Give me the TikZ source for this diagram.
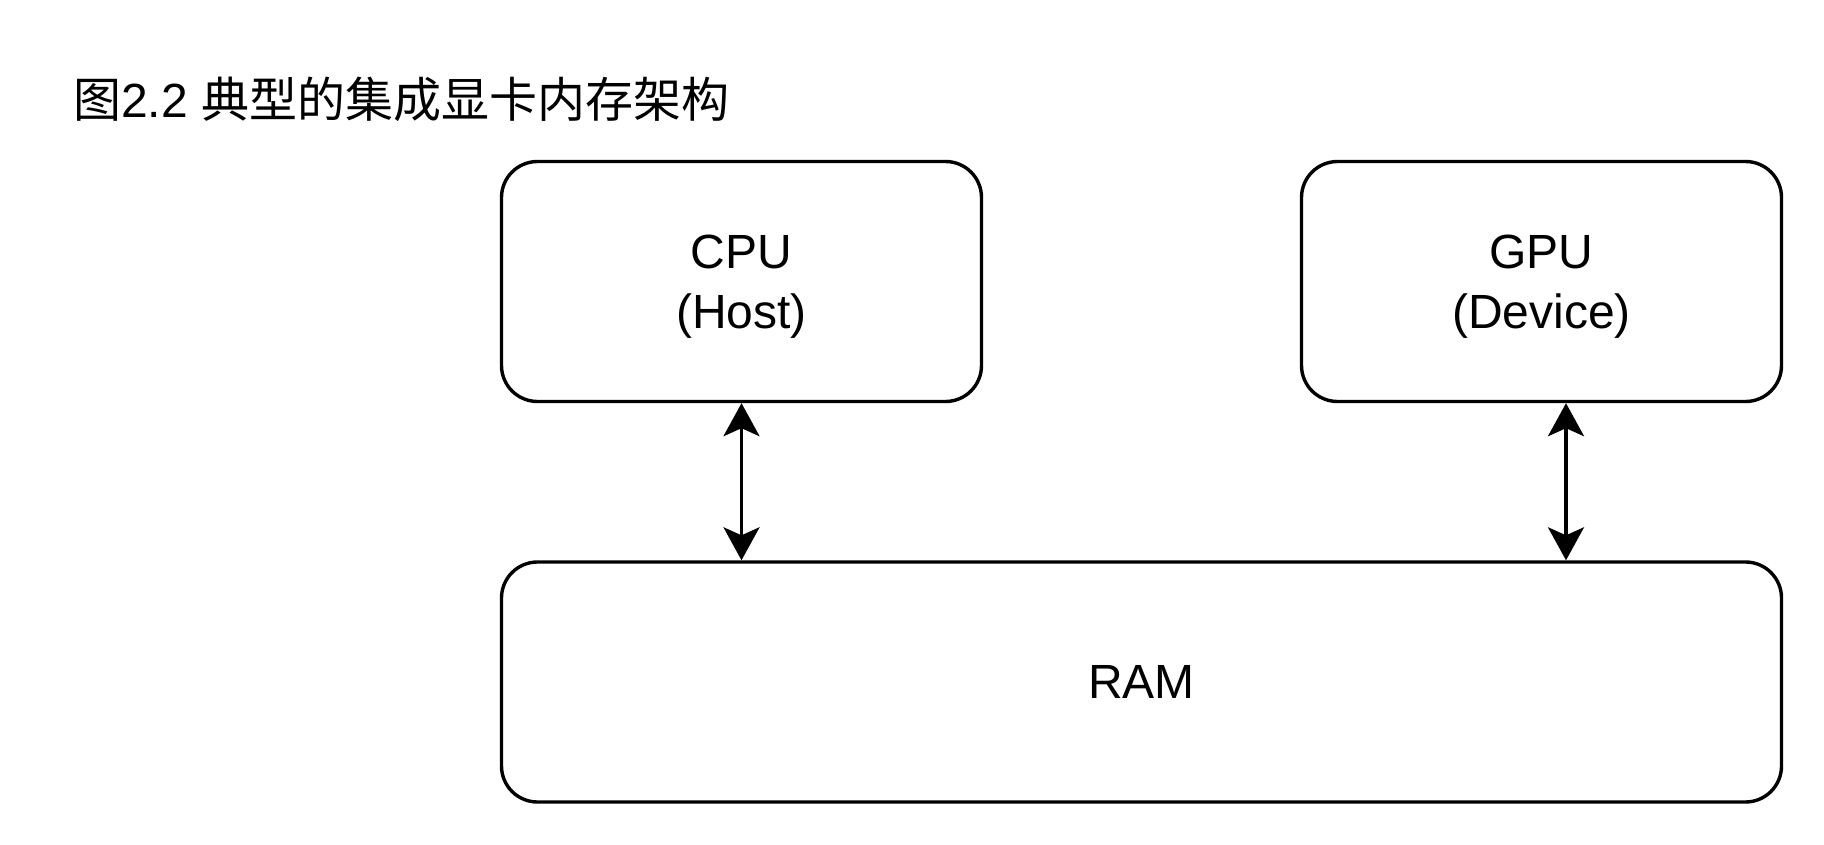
\documentclass[tikz,border=0pt]{standalone}
\usepackage{fontspec}
\setmainfont{Liberation Sans}
\newfontfamily\cjk{Noto Sans CJK SC}
\usetikzlibrary{arrows.meta}
\begin{document}
\begin{tikzpicture}[x=1pt,y=-1pt,
  unit/.style={draw=black, line width=3.4pt, rounded corners=36pt,
    minimum width=480pt, minimum height=240pt, inner sep=0pt,
    align=center, font=\fontsize{48}{60}\selectfont},
  caption/.style={font=\fontsize{48}{60}\selectfont, align=center, yshift=-5pt},
  link/.style={line width=3.4pt, {Stealth[length=33pt,width=36pt,inset=8pt]}-{Stealth[length=33pt,width=36pt,inset=8pt]}}]
  \useasboundingbox (0,0) rectangle (1824,844);
  % heading
  \node[anchor=west, inner sep=0pt, font=\fontsize{48}{60}\selectfont] (title) at (73,99)
    {{\cjk 图}2.2 {\cjk 典型的集成显卡内存架构}};
  % processors and shared memory
  \node[unit, label={[caption]center:CPU\\(Host)}] (cpu) at (741.5,281.5) {};
  \node[unit, label={[caption]center:GPU\\(Device)}] (gpu) at (1541.5,281.5) {};
  \node[unit, minimum width=1280pt] (ram) at (1141.5,682) {RAM};
  % memory links
  \coordinate (gtap) at ([xshift=24.5pt]gpu.south);
  \draw[link] (cpu.south) -- (cpu.south |- ram.north);
  \draw[link] (gtap) -- (gtap |- ram.north);
\end{tikzpicture}
\end{document}
